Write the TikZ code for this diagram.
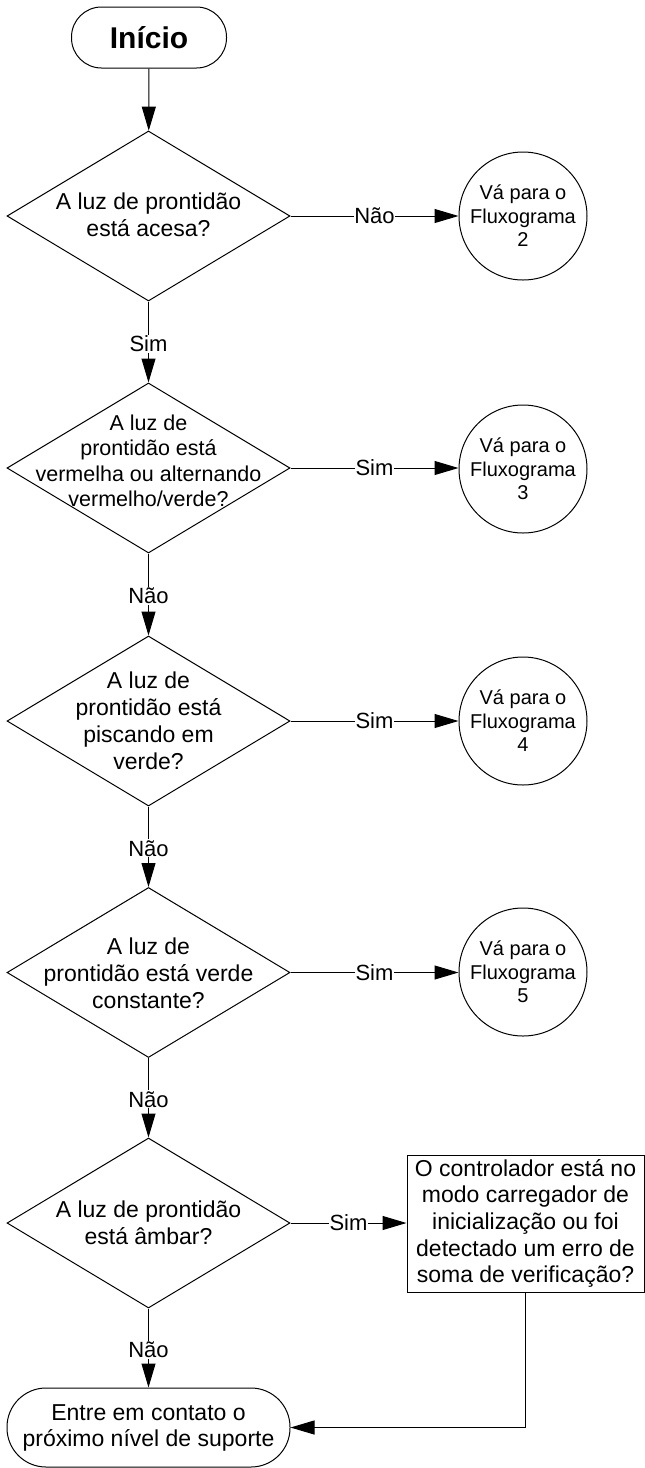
\documentclass[tikz,border=0pt]{standalone}
\usepackage{fontspec}
\setmainfont{Liberation Sans}
\usetikzlibrary{arrows.meta,shapes.geometric}
\tikzset{
  base/.style={draw, line width=1pt, inner sep=0pt},
  dia/.style={base, diamond, minimum width=283pt, minimum height=170pt},
  dtext/.style={align=center, inner sep=0pt, font=\fontsize{23}{27}\selectfont},
  circ/.style={base, circle, minimum size=128pt, align=center, font=\fontsize{20}{23.5}\selectfont},
  lab/.style={fill=white, inner sep=1pt, font=\fontsize{22}{26}\selectfont},
  arr/.style={line width=1pt, -{Triangle[length=24pt,width=14pt]}},
}
\begin{document}
\begin{tikzpicture}[x=1pt,y=-1pt]
\useasboundingbox (0,0) rectangle (645,1468);
% terminals
\node[base, rounded corners=30pt, minimum width=155pt, minimum height=61pt,
      font=\bfseries\fontsize{30}{34}\selectfont] (start) at (149,37.5) {Início};
\node[base, rounded corners=39pt, minimum width=283pt, minimum height=79pt,
      align=center, font=\fontsize{23}{26}\selectfont] (end) at (148.5,1427.5)
      {Entre em contato o\\próximo nível de suporte};
% diamonds
\node[dia] (d1) at (148.5,216) {};
\node[dtext] (d1t) at (148.5,215) {A luz de prontidão\\está acesa?};
\node[dia] (d2) at (148.5,468) {};
\node[dtext, font=\fontsize{21.5}{25.5}\selectfont] (d2t) at (148.5,461)
      {A luz de\\prontidão está\\vermelha ou alternando\\vermelho/verde?};
\node[dia] (d3) at (148.5,721) {};
\node[dtext] (d3t) at (148.5,721) {A luz de\\prontidão está\\piscando em\\verde?};
\node[dia] (d4) at (148.5,972.5) {};
\node[dtext] (d4t) at (148.5,973) {A luz de\\prontidão está verde\\constante?};
\node[dia] (d5) at (148.5,1223) {};
\node[dtext] (d5t) at (148.5,1223) {A luz de prontidão\\está âmbar?};
% circles
\node[circ] (c2) at (523,216) {Vá para o\\Fluxograma\\2};
\node[circ] (c3) at (523,469) {Vá para o\\Fluxograma\\3};
\node[circ] (c4) at (523,721) {Vá para o\\Fluxograma\\4};
\node[circ] (c5) at (523,972) {Vá para o\\Fluxograma\\5};
% box
\node[base, minimum width=237pt, minimum height=137pt, align=center,
      font=\fontsize{23}{26.7}\selectfont] (r) at (525.5,1223.5)
      {O controlador está no\\modo carregador de\\inicialização ou foi\\detectado um erro de\\soma de verificação?};
% vertical connectors
\draw[arr] (start) -- (d1);
\draw[arr] (d1) -- node[lab, pos=0.52] {Sim} (d2);
\draw[arr] (d2) -- node[lab, pos=0.52] {Não} (d3);
\draw[arr] (d3) -- node[lab, pos=0.52] {Não} (d4);
\draw[arr] (d4) -- node[lab, pos=0.52] {Não} (d5);
\draw[arr] (d5) -- node[lab, pos=0.52] {Não} (end);
% horizontal connectors
\draw[arr] (d1.east) -- node[lab, inner sep=0.5pt] {Não} (c2.west);
\draw[arr] (d2.east) -- node[lab, inner sep=0.5pt] {Sim} (d2.east -| c3.west);
\draw[arr] (d3.east) -- node[lab, inner sep=0.5pt] {Sim} (c4.west);
\draw[arr] (d4.east) -- node[lab, inner sep=0.5pt] {Sim} (d4.east -| c5.west);
\draw[arr] (d5.east) -- node[lab, inner sep=0.5pt] {Sim} (d5.east -| r.west);
\draw[arr] (r.south) |- (end.east);
\end{tikzpicture}
\end{document}
